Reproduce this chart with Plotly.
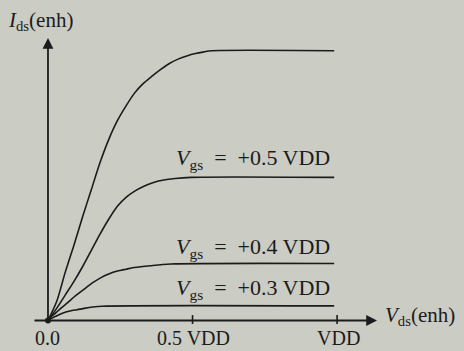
import plotly.graph_objects as go

# ---- data (Vds in units of VDD, Ids relative to the top curve's saturation) ----
vds_top = [0, 0.03, 0.06, 0.09, 0.12, 0.15, 0.18, 0.21, 0.24, 0.27, 0.30, 0.33,
           0.36, 0.39, 0.42, 0.45, 0.48, 0.51, 0.54, 0.566, 0.990]
ids_top = [0, 0.070, 0.180, 0.280, 0.385, 0.485, 0.585, 0.670, 0.740, 0.795, 0.843, 0.878,
           0.905, 0.930, 0.952, 0.968, 0.980, 0.989, 0.995, 0.999, 0.999]

vds_05 = [0, 0.03, 0.06, 0.09, 0.12, 0.15, 0.18, 0.21, 0.24, 0.27, 0.30, 0.33,
          0.36, 0.40, 0.44, 0.494, 0.990]
ids_05 = [0, 0.045, 0.095, 0.145, 0.200, 0.260, 0.320, 0.375, 0.423, 0.456, 0.479, 0.496,
          0.509, 0.520, 0.526, 0.530, 0.530]

vds_04 = [0, 0.009, 0.027, 0.044, 0.067, 0.090, 0.125, 0.155, 0.182, 0.210, 0.240,
          0.270, 0.298, 0.355, 0.425, 0.990]
ids_04 = [0, 0.012, 0.028, 0.045, 0.065, 0.087, 0.116, 0.140, 0.158, 0.172, 0.183,
          0.190, 0.196, 0.203, 0.209, 0.211]

vds_03 = [0, 0.010, 0.027, 0.050, 0.076, 0.100, 0.125, 0.155, 0.188, 0.990]
ids_03 = [0, 0.007, 0.016, 0.027, 0.035, 0.040, 0.045, 0.050, 0.053, 0.054]

curve_labels = ["+0.5 VDD", "+0.4 VDD", "+0.3 VDD"]
label_levels = [0.598, 0.270, 0.118]

tick_vals = [0.0, 0.5, 1.0]
tick_text = ["0.0", "0.5 VDD", "VDD"]

x_title = "<i>V</i><sub>ds</sub>(enh)"
y_title = "<i>I</i><sub>ds</sub>(enh)"

INK = "#1b1b1b"
BG = "#cbccc4"
FONT = "Liberation Serif"

fig = go.Figure()
for xs, ys in [(vds_top, ids_top), (vds_05, ids_05), (vds_04, ids_04), (vds_03, ids_03)]:
    fig.add_trace(go.Scatter(x=xs, y=ys, mode="lines",
                             line=dict(color=INK, width=1.6, shape="spline", smoothing=0.8),
                             hoverinfo="skip", showlegend=False))

# origin dot
fig.add_trace(go.Scatter(x=[0], y=[0], mode="markers",
                         marker=dict(color=INK, size=6), showlegend=False, hoverinfo="skip"))

# axes with arrowheads
fig.add_annotation(x=1.138, y=0, ax=-0.052, ay=0, xref="x", yref="y", axref="x", ayref="y",
                   text="", showarrow=True, arrowhead=2, arrowsize=1.2, arrowwidth=1.8,
                   arrowcolor=INK)
fig.add_annotation(x=0, y=1.046, ax=0, ay=0, xref="x", yref="y", axref="x", ayref="y",
                   text="", showarrow=True, arrowhead=2, arrowsize=1.2, arrowwidth=1.8,
                   arrowcolor=INK)

# ticks
for tv in tick_vals[1:]:
    fig.add_shape(type="line", x0=tv, x1=tv, y0=-0.013, y1=0.020, xref="x", yref="y",
                  line=dict(color=INK, width=1.6))

# tick labels
for tv, tt in zip(tick_vals, tick_text):
    fig.add_annotation(x=tv + (0.005 if tv > 0 else 0), y=-0.063, text=tt, showarrow=False,
                       xanchor="center", yanchor="middle",
                       font=dict(family=FONT, size=20, color=INK))

# curve labels
for lab, lv in zip(curve_labels, label_levels):
    fig.add_annotation(x=0.983, y=lv, text="<i>V</i><sub>gs</sub>\u2002=\u2002" + lab,
                       showarrow=False, xanchor="right", yanchor="middle",
                       font=dict(family=FONT, size=22, color=INK))

# axis titles
fig.add_annotation(x=1.160, y=0.017, text=x_title, showarrow=False,
                   xanchor="left", yanchor="middle",
                   font=dict(family=FONT, size=21, color=INK))
fig.add_annotation(x=-0.145, y=1.110, text=y_title, showarrow=False,
                   xanchor="left", yanchor="middle",
                   font=dict(family=FONT, size=21, color=INK))

fig.update_layout(
    width=464, height=351,
    margin=dict(l=0, r=0, t=0, b=0),
    paper_bgcolor=BG, plot_bgcolor=BG,
    xaxis=dict(range=[-0.166, 1.439], visible=False, fixedrange=True),
    yaxis=dict(range=[-0.113, 1.187], visible=False, fixedrange=True),
    showlegend=False,
)

fig.write_html("out.html",
               config={"displayModeBar": False, "staticPlot": True},
               post_script="document.body.style.margin='0';document.body.style.background='%s';" % BG)
